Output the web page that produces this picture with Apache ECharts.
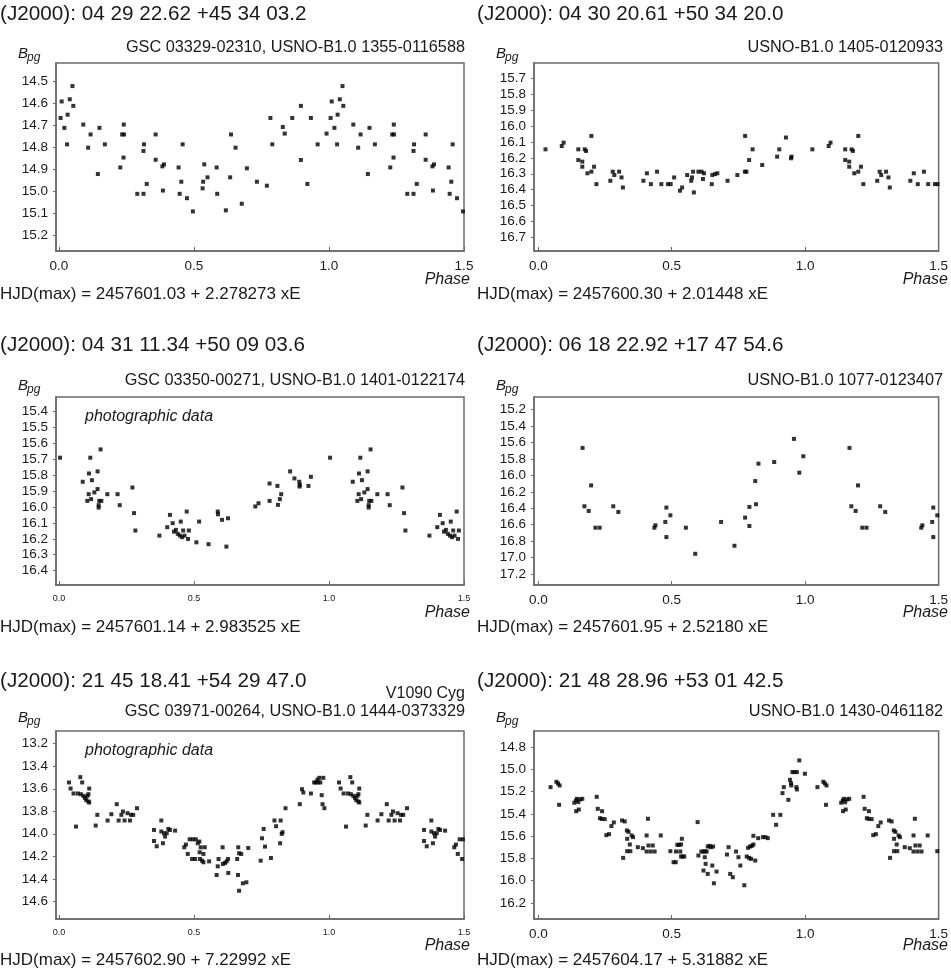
<!DOCTYPE html>
<html>
<head>
<meta charset="utf-8">
<script src="https://cdn.jsdelivr.net/npm/echarts@6/dist/echarts.min.js"></script>
<style>
  html, body { margin: 0; background: #fff; }
  #chart { width: 951px; height: 976px; }
</style>
</head>
<body>
<div id="chart"></div>
<script>
// light curves of six variables, phase vs. B magnitude (phase 0..1)
const titles = [
  '(J2000): 04 29 22.62 +45 34 03.2',
  '(J2000): 04 30 20.61 +50 34 20.0',
  '(J2000): 04 31 11.34 +50 09 03.6',
  '(J2000): 06 18 22.92 +17 47 54.6',
  '(J2000): 21 45 18.41 +54 29 47.0',
  '(J2000): 21 48 28.96 +53 01 42.5'
]
const catalogIds = [
  'GSC 03329-02310, USNO-B1.0 1355-0116588',
  'USNO-B1.0 1405-0120933',
  'GSC 03350-00271, USNO-B1.0 1401-0122174',
  'USNO-B1.0 1077-0123407',
  'GSC 03971-00264, USNO-B1.0 1444-0373329',
  'USNO-B1.0 1430-0461182'
]
const ephemerides = [
  'HJD(max) = 2457601.03 + 2.278273 xE',
  'HJD(max) = 2457600.30 + 2.01448 xE',
  'HJD(max) = 2457601.14 + 2.983525 xE',
  'HJD(max) = 2457601.95 + 2.52180 xE',
  'HJD(max) = 2457602.90 + 7.22992 xE',
  'HJD(max) = 2457604.17 + 5.31882 xE'
]
const phaseTicks = [0, 0.5, 1.0, 1.5]
const magTicks = [
  [14.5, 14.6, 14.7, 14.8, 14.9, 15.0, 15.1, 15.2],
  [15.7, 15.8, 15.9, 16.0, 16.1, 16.2, 16.3, 16.4, 16.5, 16.6, 16.7],
  [15.4, 15.5, 15.6, 15.7, 15.8, 15.9, 16.0, 16.1, 16.2, 16.3, 16.4],
  [15.2, 15.4, 15.6, 15.8, 16.0, 16.2, 16.4, 16.6, 16.8, 17.0, 17.2],
  [13.2, 13.4, 13.6, 13.8, 14.0, 14.2, 14.4, 14.6],
  [14.8, 15.0, 15.2, 15.4, 15.6, 15.8, 16.0, 16.2]
]

const star1 = [
  [0.006,14.665],[0.010,14.59],[0.020,14.71],[0.030,14.785],[0.032,14.65],[0.040,14.58],[0.050,14.52],
  [0.053,14.61],[0.090,14.695],[0.108,14.80],[0.117,14.74],[0.144,14.92],[0.150,14.71],[0.170,14.785],
  [0.227,14.89],[0.234,14.74],[0.239,14.845],[0.240,14.695],[0.241,14.74],[0.290,15.01],[0.313,15.01],
  [0.313,14.815],[0.315,14.785],[0.325,14.965],[0.358,14.74],[0.358,14.855],[0.383,14.885],[0.389,14.876],
  [0.385,14.995],[0.443,14.89],[0.447,15.01],[0.453,14.955],[0.458,14.785],[0.474,15.03],[0.496,15.09],
  [0.532,14.985],[0.534,14.955],[0.538,14.876],[0.550,14.935],[0.584,14.89],[0.586,15.01],[0.618,15.085],
  [0.634,14.935],[0.637,14.74],[0.654,14.80],[0.677,15.055],[0.696,14.894],[0.733,14.955],[0.770,14.973],
  [0.783,14.665],[0.790,14.785],[0.829,14.706],[0.836,14.736],[0.864,14.665],[0.896,14.61],[0.896,14.856],
  [0.920,14.965],[0.933,14.665],[0.958,14.785],[0.991,14.736]
]
const star2 = [
  [0.027,16.147],[0.088,16.126],[0.095,16.105],[0.150,16.147],[0.150,16.214],[0.165,16.224],[0.165,16.256],
  [0.174,16.147],[0.179,16.157],[0.184,16.297],[0.199,16.063],[0.199,16.287],[0.209,16.256],[0.218,16.365],
  [0.270,16.344],[0.279,16.287],[0.285,16.308],[0.303,16.287],[0.312,16.323],[0.317,16.386],[0.394,16.344],
  [0.407,16.297],[0.422,16.365],[0.445,16.287],[0.461,16.365],[0.486,16.365],[0.496,16.365],[0.509,16.323],
  [0.531,16.406],[0.539,16.386],[0.558,16.308],[0.573,16.344],[0.576,16.323],[0.580,16.287],[0.583,16.417],
  [0.600,16.287],[0.612,16.287],[0.617,16.333],[0.621,16.297],[0.650,16.365],[0.652,16.308],[0.662,16.302],
  [0.671,16.297],[0.709,16.344],[0.746,16.308],[0.774,16.287],[0.780,16.287],[0.775,16.063],[0.790,16.214],
  [0.803,16.147],[0.839,16.245],[0.895,16.193],[0.903,16.147],[0.928,16.073],[0.947,16.203],[0.949,16.193]
]
const star3 = [
  [0.004,15.691],[0.088,15.842],[0.105,15.962],[0.110,15.92],[0.111,15.79],[0.116,15.691],[0.119,15.951],
  [0.122,15.832],[0.131,15.909],[0.143,15.777],[0.143,15.888],[0.147,16.004],[0.147,15.989],[0.149,15.962],
  [0.157,15.962],[0.154,15.639],[0.179,15.92],[0.217,15.92],[0.225,15.989],[0.272,15.878],[0.278,16.039],
  [0.283,16.148],[0.372,16.18],[0.401,16.127],[0.411,16.05],[0.421,16.102],[0.426,16.155],[0.433,16.144],
  [0.440,16.169],[0.448,16.18],[0.451,16.092],[0.456,16.19],[0.460,16.148],[0.465,16.18],[0.473,16.029],
  [0.478,16.201],[0.481,16.148],[0.509,16.222],[0.519,16.092],[0.554,16.234],[0.588,16.029],[0.589,16.046],
  [0.604,16.081],[0.620,16.249],[0.626,16.071],[0.727,15.997],[0.739,15.977],[0.780,15.962],[0.780,15.853],
  [0.809,15.868],[0.811,15.987],[0.818,15.951],[0.823,15.92],[0.856,15.777],[0.872,15.821],[0.890,15.842],
  [0.891,15.872],[0.892,15.862],[0.924,15.868],[0.933,15.811]
]
const star4 = [
  [0.166,15.665],[0.173,16.376],[0.189,16.433],[0.198,16.122],[0.214,16.637],[0.230,16.637],[0.281,16.376],
  [0.300,16.445],[0.435,16.637],[0.439,16.608],[0.476,16.567],[0.480,16.392],[0.480,16.751],[0.495,16.486],
  [0.553,16.637],[0.588,16.955],[0.685,16.567],[0.735,16.857],[0.775,16.514],[0.791,16.384],[0.791,16.616],
  [0.813,16.069],[0.816,16.351],[0.825,15.857],[0.884,15.837],[0.958,15.555],[0.978,15.967],[0.993,15.767]
]
const star5 = [
  [0.037,13.544],[0.043,13.598],[0.054,13.642],[0.063,13.936],[0.070,13.642],[0.079,13.497],[0.081,13.648],
  [0.086,13.544],[0.090,13.663],[0.096,13.681],[0.101,13.701],[0.105,13.663],[0.109,13.648],[0.109,13.713],
  [0.112,13.598],[0.112,13.722],[0.136,13.927],[0.142,13.832],[0.180,13.882],[0.194,13.826],[0.214,13.737],
  [0.221,13.882],[0.231,13.832],[0.237,13.802],[0.243,13.882],[0.254,13.817],[0.263,13.882],[0.267,13.832],
  [0.275,13.832],[0.289,13.773],[0.352,13.966],[0.352,14.064],[0.362,14.111],[0.379,13.882],[0.379,13.98],
  [0.385,14.084],[0.389,13.995],[0.393,14.025],[0.399,13.995],[0.405,13.957],[0.411,13.966],[0.430,13.972],
  [0.464,14.12],[0.470,14.096],[0.477,14.179],[0.484,14.049],[0.493,14.224],[0.496,14.049],[0.504,14.224],
  [0.507,14.049],[0.514,14.084],[0.520,14.069],[0.521,14.164],[0.522,14.224],[0.525,14.12],[0.530,14.239],
  [0.535,14.179],[0.535,14.253],[0.540,14.12],[0.556,14.245],[0.584,14.366],[0.588,14.289],[0.591,14.224],
  [0.606,14.12],[0.607,14.268],[0.615,14.259],[0.621,14.245],[0.626,14.224],[0.627,14.348],[0.660,14.224],
  [0.663,14.366],[0.664,14.12],[0.667,14.506],[0.667,14.173],[0.675,14.179],[0.681,14.44],[0.694,14.431],
  [0.701,14.126],[0.747,14.239],[0.752,14.04],[0.758,13.957],[0.763,14.114],[0.785,14.215],[0.798,13.882],
  [0.804,13.933],[0.819,14.084],[0.821,13.882],[0.825,14.001],[0.828,13.986],[0.839,13.773],[0.892,13.737],
  [0.900,13.604],[0.905,13.633],[0.933,13.642],[0.945,13.544],[0.951,13.544],[0.957,13.52],[0.960,13.544],
  [0.964,13.503],[0.968,13.544],[0.973,13.657],[0.976,13.737],[0.979,13.503],[0.983,13.773]
]
const star6 = [
  [0.046,15.16],[0.068,15.112],[0.074,15.127],[0.078,15.319],[0.080,15.145],[0.135,15.30],[0.141,15.28],
  [0.142,15.376],[0.145,15.265],[0.150,15.295],[0.152,15.361],[0.157,15.27],[0.165,15.265],[0.219,15.247],
  [0.223,15.355],[0.231,15.439],[0.238,15.445],[0.239,15.376],[0.249,15.447],[0.255,15.591],[0.265,15.582],
  [0.274,15.51],[0.283,15.477],[0.314,15.459],[0.318,15.795],[0.324,15.468],[0.332,15.549],[0.333,15.624],
  [0.333,15.735],[0.338,15.561],[0.343,15.675],[0.345,15.735],[0.350,15.594],[0.355,15.609],[0.373,15.699],
  [0.392,15.708],[0.406,15.594],[0.406,15.738],[0.411,15.444],[0.413,15.684],[0.421,15.738],[0.429,15.684],
  [0.436,15.738],[0.459,15.594],[0.495,15.735],[0.507,15.834],[0.515,15.834],[0.516,15.738],[0.521,15.678],
  [0.527,15.678],[0.532,15.738],[0.535,15.675],[0.535,15.783],[0.538,15.624],[0.541,15.783],[0.547,15.783],
  [0.597,15.474],[0.600,15.774],[0.611,15.738],[0.619,15.738],[0.619,15.909],[0.624,15.789],[0.625,15.738],
  [0.627,15.849],[0.631,15.738],[0.635,15.693],[0.635,15.939],[0.642,15.687],[0.647,15.699],[0.652,15.864],
  [0.655,15.693],[0.658,16.023],[0.668,15.918],[0.707,15.765],[0.713,15.699],[0.719,15.939],[0.729,15.969],
  [0.741,15.738],[0.750,15.789],[0.757,15.864],[0.772,16.041],[0.781,15.783],[0.786,15.705],[0.790,15.795],
  [0.794,15.693],[0.797,15.804],[0.800,15.687],[0.806,15.675],[0.806,15.597],[0.813,15.819],[0.824,15.618],
  [0.842,15.609],[0.851,15.609],[0.860,15.618],[0.880,15.409],[0.891,15.498],[0.907,15.409],[0.915,15.214],
  [0.920,15.16],[0.937,15.274],[0.943,15.094],[0.947,15.124],[0.948,15.145],[0.952,15.025],[0.960,15.025],
  [0.967,15.16],[0.969,15.025],[0.969,15.181],[0.978,14.92],[0.999,15.04]
]
const stars = [star1, star2, star3, star4, star5, star6]

// the plots show phase 0..1.5, so the first half cycle is drawn a second time
function twoCycles(points) {
  return points.concat(points.filter(p => p[0] <= 0.5).map(p => [p[0] + 1, p[1]]))
}

// layout
const FONT = '"Liberation Sans", Arial, sans-serif'
const INK = '#1a1a1a'
const FRAME = '#6a6a6a'
const colLeft = [56, 534]
const plotW = 408
const plotH = 188
const rowTop = [63, 397, 731]
const titleY = [14, 345, 681]
const idY = [48, 381, 712]
const bY = [54, 386, 718]
const phaseY = [280, 613, 946]
const hjdY = [294, 627, 960]
const magRange = [[14.415, 15.27], [15.606, 16.784], [15.31, 16.49], [15.045, 17.335], [13.087, 14.757], [14.656, 16.344]]
const xMin = [-0.011, -0.016]
const smallX = [false, false, true, false, true, false]

function text(x, y, str, size, align, italic) {
  return {
    type: 'text', x, y, silent: true,
    style: {
      text: str,
      font: (italic ? 'italic ' : '') + size + 'px ' + FONT,
      fill: INK,
      textAlign: align, align: align,
      textVerticalAlign: 'middle', verticalAlign: 'middle'
    }
  }
}

const grid = [], xAxis = [], yAxis = [], series = [], graphic = []
for (let i = 0; i < 6; i++) {
  const col = i % 2, row = Math.floor(i / 2)
  const left = colLeft[col], top = rowTop[row]
  grid.push({ left, top, width: plotW, height: plotH, show: true, borderColor: FRAME, borderWidth: 1.5 })
  xAxis.push({
    gridIndex: i, type: 'value', min: xMin[col], max: 1.5,
    axisLine: { show: true, onZero: false, lineStyle: { color: FRAME, width: 1.5 } },
    axisTick: { show: true, inside: true, length: 4, customValues: phaseTicks, lineStyle: { color: FRAME } },
    axisLabel: {
      customValues: phaseTicks, formatter: v => v.toFixed(1), color: INK, fontFamily: FONT,
      fontSize: smallX[i] ? 9 : 13.5, margin: smallX[i] ? 9 : 8
    },
    splitLine: { show: false }
  })
  yAxis.push({
    gridIndex: i, type: 'value', inverse: true, min: magRange[i][0], max: magRange[i][1],
    axisLine: { show: true, onZero: false, lineStyle: { color: FRAME, width: 1.5 } },
    axisTick: { show: true, length: 3, customValues: magTicks[i], lineStyle: { color: FRAME } },
    axisLabel: { customValues: magTicks[i], formatter: v => v.toFixed(1), color: INK, fontFamily: FONT, fontSize: 13.5, margin: 8 },
    splitLine: { show: false }
  })
  series.push({
    type: 'scatter', xAxisIndex: i, yAxisIndex: i, data: twoCycles(stars[i]),
    symbol: 'rect', symbolSize: 4, itemStyle: { color: '#000' }, silent: true
  })

  const x0 = col === 0 ? 0 : 477
  graphic.push(text(x0, titleY[row], titles[i], 20.7, 'left'))
  graphic.push(text(left + plotW + 1, idY[row], catalogIds[i], 16.3, 'right'))
  graphic.push(text(left - 38, bY[row], 'B', 15, 'left', true))
  graphic.push(text(left - 29, bY[row] + 4, 'pg', 12, 'left', true))
  graphic.push(text(left + plotW + 6, phaseY[row], 'Phase', 16, 'right', true))
  graphic.push(text(x0, hjdY[row], ephemerides[i], 17, 'left'))
}
graphic.push(text(85, 417, 'photographic data', 16, 'left', true))
graphic.push(text(85, 751, 'photographic data', 16, 'left', true))
graphic.push(text(465, 694, 'V1090 Cyg', 16, 'right'))

const chart = echarts.init(document.getElementById('chart'), null, { renderer: 'canvas' })
chart.setOption({ animation: false, backgroundColor: '#fff', grid, xAxis, yAxis, series, graphic })
</script>
</body>
</html>
